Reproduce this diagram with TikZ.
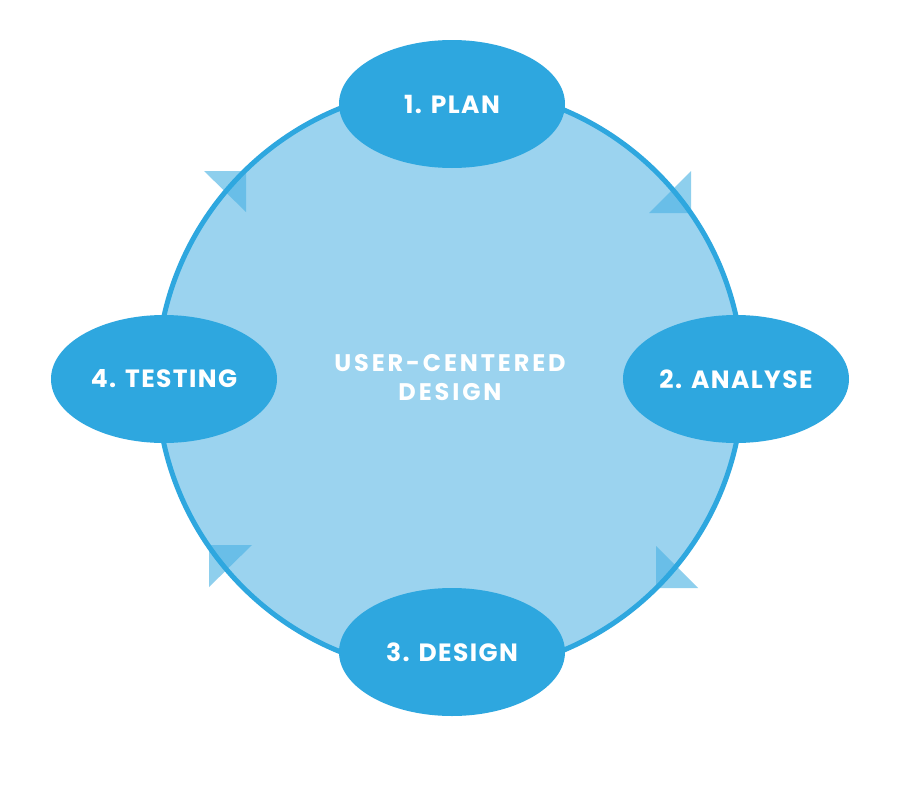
\documentclass[tikz,border=0pt]{standalone}
\usepackage{fontspec}
\setmainfont{Poppins}
\newfontfamily\phasefont[LetterSpace=5.5]{Poppins}
\newfontfamily\ucdfont[LetterSpace=12]{Poppins}
\usetikzlibrary{shapes.geometric}
\definecolor{ringblue}{RGB}{46,167,223}
\definecolor{discblue}{RGB}{155,211,239}
\definecolor{tipblue}{RGB}{77,179,228}
\tikzset{
    % step ellipse
    phase/.style={
           ellipse,
           fill=ringblue,
           minimum width=226,
           minimum height=128,
           inner sep=0pt,
           text=white,
           font=\phasefont\bfseries\fontsize{25}{25}\selectfont},
    % arrow head sitting on the ring
    ringtip/.style={
           fill=tipblue,
           fill opacity=0.63}
}

\begin{document}
\begin{tikzpicture}[x=1pt, y=-1pt]

%%%%%%%%%%%%%%%%%%%%%%%%%%%%%%%%%

\fill [white] (0,0) rectangle (900,803);
\useasboundingbox (0,0) rectangle (900,803);

% disc
\coordinate (ctr) at (450,380);
\fill [discblue] (ctr) circle (293);

% arrow heads
\fill [ringtip] (204,171) -- (246,171) -- (246,212) -- cycle;
\fill [ringtip] (691,171) -- (691,213) -- (649,213) -- cycle;
\fill [ringtip] (656,546) -- (656,588) -- (698,588) -- cycle;
\fill [ringtip] (209,545) -- (252,545) -- (209,587) -- cycle;

% ring
\draw [ringblue, line width=5] (ctr) circle (293);

% centre
\node [text=white, align=center, font=\ucdfont\bfseries\fontsize{24}{29}\selectfont]
      (ucd) at (450,378) {USER-CENTERED\\DESIGN};

% steps
\node [phase] (plan)    at (452,104) {1. PLAN};
\node [phase] (analyse) at (736,379) {2. ANALYSE};
\node [phase] (design)  at (452,652) {3. DESIGN};
\node [phase] (testing) at (164,379) {4. TESTING};

\end{tikzpicture}
\end{document}
